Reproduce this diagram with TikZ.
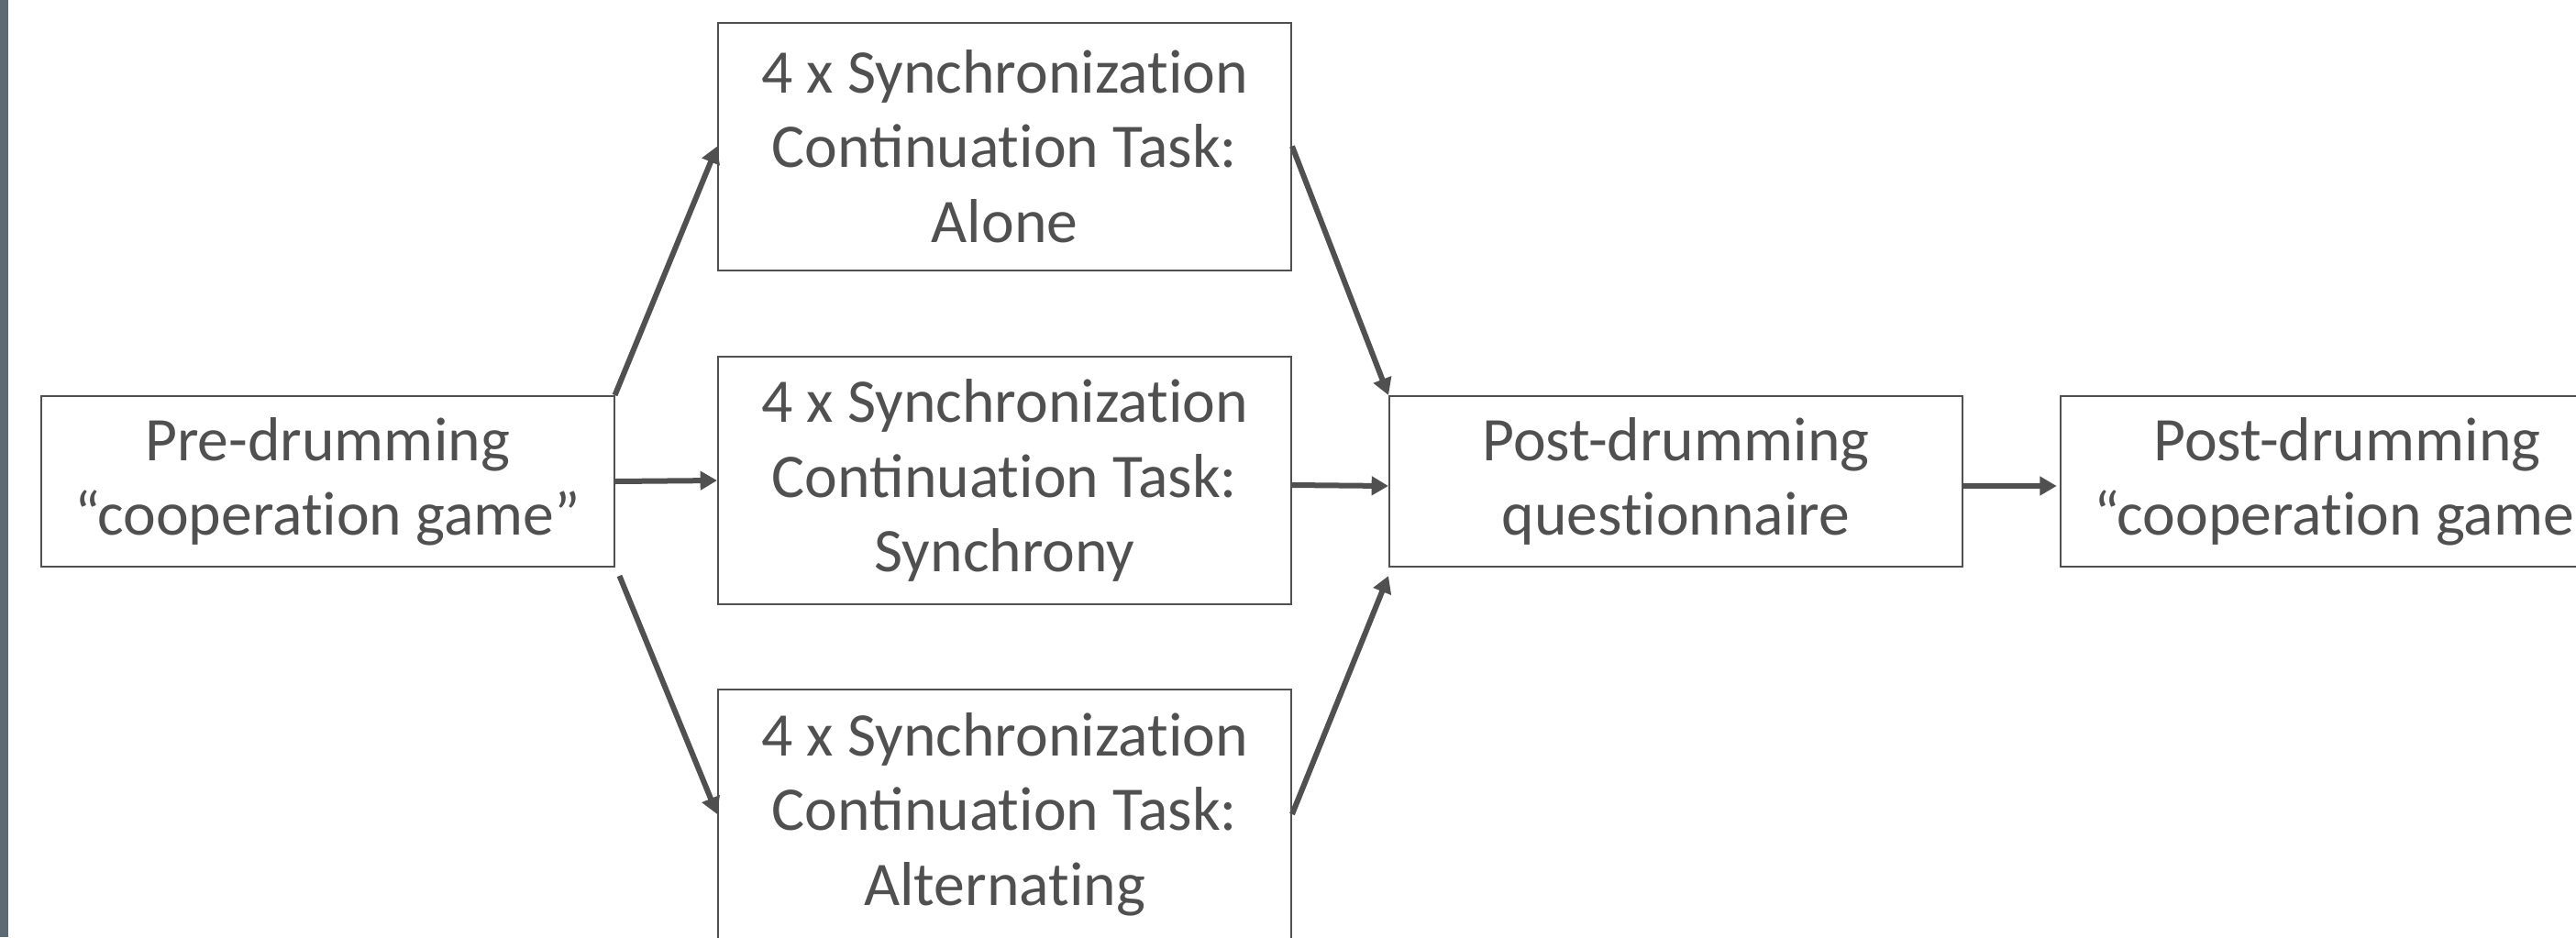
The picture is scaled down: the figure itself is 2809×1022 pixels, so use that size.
\documentclass[tikz,border=0pt]{standalone}
\usepackage{fontspec}
\setmainfont{Carlito}
\usetikzlibrary{arrows.meta}

\definecolor{txtgray}{RGB}{80,80,80}
\definecolor{bargray}{RGB}{94,106,115}
% keep t and i apart (no ti ligature)
\newcommand{\brk}{\kern0pt }

\begin{document}
\begin{tikzpicture}[x=0.3pt,y=-0.3pt,
    box/.style={draw=txtgray,line width=0.6pt,minimum width=187.5pt,inner sep=0pt,
        align=center,text=txtgray,font=\fontsize{20.3}{24.4}\selectfont},
    stage/.style={box,minimum height=55.8pt},
    task/.style={box,minimum height=81pt},
    flow/.style={draw=txtgray,line width=1.8pt,-{Triangle[length=5.5pt,width=6pt]}}]
    \useasboundingbox (0,0) rectangle (2809,1022);
    \fill[bargray] (0,0) rectangle (9,1022);

    \node (pre) [stage] at (357,525) {Pre-drumming\\“cooperat\brk ion game”};

    \node (alone) [task] at (1095.5,159.5) {4 x Synchronizat\brk ion\\Continuat\brk ion Task:\\Alone};
    \node (sync) [task] at (1095.5,524) {4 x Synchronizat\brk ion\\Continuat\brk ion Task:\\Synchrony};
    \node (alt) [task,minimum height=81.6pt] at (1095.5,888) {4 x Synchronizat\brk ion\\Continuat\brk ion Task:\\Alternat\brk ing};

    \node (postq) [stage] at (1827.5,525) {Post-drumming\\quest\brk ionnaire};
    \node (postcoop) [stage] at (2559.5,525) {Post-drumming\\“cooperat\brk ion game”};

    \draw[flow] (pre.north east) -- (alone.west);
    \draw[flow] (pre.east) -- (sync.west);
    \draw[flow] ([shift={(5,9)}]pre.south east) -- (alt.west);
    \draw[flow] (alone.east) -- (postq.north west);
    \draw[flow] ([shift={(0,5)}]sync.east) -- ([shift={(0,5)}]postq.west);
    \draw[flow] (alt.east) -- ([shift={(0,9)}]postq.south west);
    \draw[flow,shorten >=1pt] ([shift={(0,5)}]postq.east) -- ([shift={(0,5)}]postcoop.west);
\end{tikzpicture}
\end{document}
